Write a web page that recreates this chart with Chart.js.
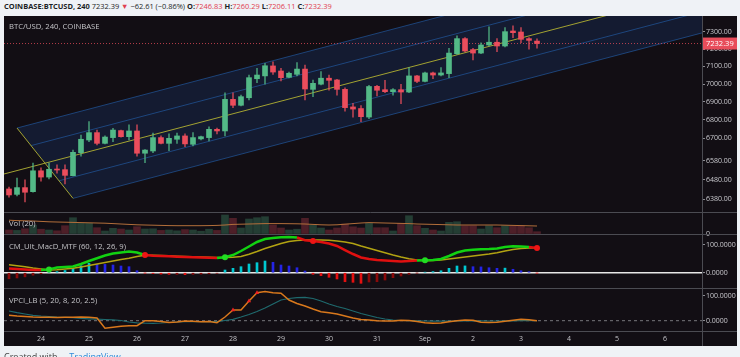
<!DOCTYPE html>
<html><head><meta charset="utf-8">
<script src="https://cdn.jsdelivr.net/npm/chart.js@4.4.1/dist/chart.umd.min.js"></script>
<style>
html,body{margin:0;padding:0;background:#eff2f6;width:740px;height:357px;overflow:hidden;font-family:'Open Sans',sans-serif}
#hdr{position:absolute;left:4px;top:1px;font-size:7.45px;line-height:11px;color:#1c1f26;white-space:nowrap}
#hdr b{font-weight:700}
#hdr .r{color:#e0404f}
#frame{position:absolute;left:4px;top:16px;width:733px;height:330px;background:#120e14}
#frame canvas{position:absolute;left:0;top:0}
.lbl{position:absolute;font-size:7.7px;color:#c4c4c8;white-space:nowrap;line-height:10px}
#foot{position:absolute;left:4px;top:350px;font-size:9px;color:#444;white-space:nowrap}
#foot span{color:#2f8bd8}
</style></head><body>
<div id="hdr"><b>COINBASE:BTCUSD, 240</b> 7232.39 <span class="r">▼</span> −62.61 (−0.86%) <b>O:</b><span class="r">7246.83</span> <b>H:</b><span class="r">7260.29</span> <b>L:</b><span class="r">7206.11</span> <b>C:</b><span class="r">7232.39</span></div>
<div id="frame">
<canvas id="c" width="733" height="330"></canvas>
<div class="lbl" style="left:5px;top:5px">BTC/USD, 240, COINBASE</div>
<div class="lbl" style="left:5px;top:202px">Vol (20)</div>
<div class="lbl" style="left:5px;top:225px">CM_Ult_MacD_MTF (60, 12, 26, 9)</div>
<div class="lbl" style="left:5px;top:279px">VPCI_LB (5, 20, 8, 20, 2.5)</div>
</div>
<div id="foot">Created with &nbsp; &nbsp; <span>TradingView</span></div>
<script>
// ---- data (4h candles, bar 0 = Aug 24 00:00) ----
const firstBar = -4;
const dayLabels = ['24','25','26','27','28','29','30','31','Sep','2','3','4','5','6'];
const priceTicks = [7300,7200,7100,7000,6900,6800,6700,6580,6480,6380];
const open = [6432,6404,6439,6418,6527,6494,6535,6533,6501,6623,6691,6731,6673,6704,6742,6709,6740,6620,6632,6704,6673,6695,6713,6668,6697,6704,6749,6740,6914,6881,6923,7030,7046,7103,7074,7038,7055,7085,6970,6999,7033,7023,6970,6872,6863,6816,6987,6968,6957,6968,6955,7046,7015,7063,7051,7059,7173,7261,7197,7177,7224,7240,7218,7306,7300,7261,7246.83];
const high = [6442,6489,6479,6568,6543,6568,6558,6558,6637,6718,6791,6745,6713,6755,6745,6773,6773,6640,6729,6713,6724,6729,6724,6731,6712,6762,6756,6951,6950,6938,7051,7089,7118,7127,7089,7068,7122,7108,7023,7070,7051,7027,6978,6892,6879,6993,6993,7021,6974,6999,7093,7050,7068,7068,7093,7205,7277,7267,7205,7237,7331,7261,7326,7336,7326,7267,7260.29];
const low = [6390,6396,6365,6416,6473,6484,6515,6458,6500,6605,6682,6664,6670,6682,6706,6691,6605,6570,6623,6670,6634,6673,6655,6659,6691,6686,6724,6713,6868,6877,6911,7008,6999,7055,7017,7034,7046,6911,6929,6995,6966,6938,6849,6815,6791,6807,6933,6951,6937,6890,6951,7008,7012,7030,7046,7036,7169,7183,7137,7173,7218,7185,7212,7267,7237,7199,7206.11];
const close = [6401,6439,6415,6527,6494,6535,6531,6503,6625,6695,6731,6673,6707,6745,6709,6740,6620,6637,6704,6673,6700,6713,6670,6704,6709,6749,6740,6914,6881,6929,7036,7051,7104,7068,7036,7061,7085,6972,7004,7033,7021,6970,6868,6860,6818,6986,6965,6957,6968,6955,7046,7015,7063,7051,7063,7177,7261,7189,7177,7224,7240,7218,7302,7296,7257,7251,7232.39];
const volume = [1000,900,1300,2200,1200,1000,800,2075,4075,2675,2675,1575,750,1425,1250,1000,1825,1250,1300,900,1000,800,1100,1000,700,1200,900,4750,3925,1500,3750,4075,4325,2250,1500,1000,1200,3925,2250,1500,1000,1500,2500,1800,1500,2675,1575,1575,750,2675,4575,2075,1425,1000,750,2925,3075,2075,2075,1250,2075,1575,2075,2075,2075,1575,575];
const volumeMA = [3450,3350,3300,3250,3150,3050,3000,2950,2900,2850,2800,2750,2700,2600,2500,2400,2300,2250,2200,2150,2100,2075,2075,2075,2075,2100,2150,2250,2400,2450,2500,2550,2600,2600,2600,2575,2550,2500,2400,2300,2250,2300,2450,2600,2750,2850,2800,2750,2700,2650,2600,2500,2450,2400,2350,2300,2250,2250,2250,2250,2250,2250,2200,2150,2100,2050,2000];
const macd = [15.2,13.4,11.6,9.7,9.7,11.6,18.8,20.6,22.4,31.4,42.2,52.0,62.1,69.3,72.9,76.5,72.9,63.9,61.0,60.3,59.2,57.8,56.7,55.6,54.9,54.2,53.1,55.6,63.9,78.3,94.6,110.8,121.7,125.3,127.8,128.9,127.1,117.5,114.4,110.8,105.4,96.4,81.9,67.5,54.9,49.5,45.8,44.0,42.2,40.4,42.2,44.0,44.8,45.8,49.5,60.3,72.9,80.1,83.0,84.5,85.6,87.4,92.8,95.7,94.6,92.8,89.5];
const macdSignal = [28.5,24.9,21.3,17.0,13.4,9.7,10.5,13.4,15.9,20.6,26.0,31.4,36.8,42.2,47.7,52.3,58.5,63.2,62.8,62.1,61.0,59.6,58.5,57.4,56.7,56.0,55.2,54.9,55.6,58.5,66.4,76.5,87.4,96.4,105.4,112.6,116.2,118.0,118.0,118.0,117.0,114.4,110.8,105.4,96.4,88.1,80.1,72.2,63.9,56.7,50.2,45.8,43.3,44.0,45.8,49.5,53.1,56.7,60.3,63.9,67.5,72.2,78.3,83.8,87.4,89.2,90.3];
const macdHist = [-22,-19,-15,-9,-4,2,4,8,15.9,25.3,34.0,30.3,30.0,27.8,24.2,21.7,7.2,-1,-3,-5,-6,-6,-7,-6,-5,-4,-2,9.7,15.9,21.7,31.4,36.1,42.2,37.5,27.8,24.2,18.0,6,-5.8,-10.8,-16.6,-22.7,-32.5,-34.7,-38.3,-33.6,-32.5,-26.4,-18,-11.9,-5.8,-1,2,4,7.2,15.9,24.2,24.5,21.7,21.0,18.0,15.9,16.5,12.3,7.2,3.6,-1];
const crossUp = [1,23,48];
const crossDown = [13,34,62];
const vpci = [21.6,18.8,16.8,14.8,13.6,13.6,12.8,13.6,13.6,14.8,13.6,10.8,-30.4,-26,-22,-20,-20,0,0,-3.2,-7.2,-5.2,-1.2,-2.4,-4,-3.2,-8,14.8,42.8,42.8,78.8,112,116.8,112,109.6,82.8,68.8,58.8,46.8,36,32,26.8,18.8,10.8,4.8,2.8,0,-1.2,-1.2,2,0.8,-3.2,-8,-10.4,-9.2,-4,0,2.8,1.6,-6.4,-7.2,-6.4,-2.4,1.6,5.6,4,0];
const vpciSignal = [38.8,32,26.8,21.6,18.8,16.8,14.8,13.6,12,9.6,7.6,6,4.8,3.6,0.8,-5.2,-8.4,-10,-10.4,-9.2,-7.2,-5.2,-4,-4,-4,-4,-4,0.8,5.6,14.8,24.8,36.8,50.8,66.8,82.8,88.8,92,93.6,88.8,78.8,66.8,56.8,48.8,38.8,28.8,20.8,12.8,6.8,2.8,0.8,0,-0.8,-1.2,-1.6,-1.6,-1.6,-1.2,-0.8,-0.8,-0.8,-1.2,-1.2,-0.8,-0.4,0,0,0];
const vpciMarks = [24,26,27];
// regression channel: centre line anchors (bar, price) and band ratios
const channelBars = [-5, 83];
const channelPrices = [6506, 7554];
const channelOuter = 1.0349, channelInner = 1.0173;
const channelStartBars = {upper:-3, upperInner:-1.25, lowerInner:2.25, lower:4};

// ---- build ----
const N = close.length;
const xs = close.map((_,k)=>k+firstBar);
const X0 = -4.625, X1 = 82.625;
const up = k => close[k] >= open[k];
const UPC = '#53b987', DNC = '#eb4d5c';
const centre = b => Math.exp(Math.log(channelPrices[0]) + (b-channelBars[0])/(channelBars[1]-channelBars[0])*(Math.log(channelPrices[1])-Math.log(channelPrices[0])));
const line2 = (b0,b1,f) => [{x:b0,y:centre(b0)*f},{x:b1,y:centre(b1)*f}];
const BE = channelBars[1];
const poly = [
  {x:channelStartBars.upper, y:centre(channelStartBars.upper)*channelOuter},
  {x:BE, y:centre(BE)*channelOuter},
  {x:BE, y:centre(BE)/channelOuter},
  {x:channelStartBars.lower, y:centre(channelStartBars.lower)/channelOuter},
  {x:channelStartBars.upper, y:centre(channelStartBars.upper)*channelOuter}
];
const lineDS = (data, yAxisID, color, width, extra) => Object.assign({type:'line', data, yAxisID, borderColor:color, borderWidth:width, pointRadius:0, fill:false, tension:0}, extra||{});
const pts = arr => arr.map((v,k)=>({x:xs[k], y:v}));
const CH = 'rgba(38,105,190,0.55)', YEL = '#a3a332';

const datasets = [
  {type:'line', data:poly, yAxisID:'yP', borderWidth:0, pointRadius:0, fill:'shape', backgroundColor:'rgba(30,80,165,0.2)', order:100},
  lineDS(line2(channelStartBars.upper,BE,channelOuter),'yP',CH,1,{order:90}),
  lineDS(line2(channelStartBars.upperInner,BE,channelInner),'yP',CH,1,{order:90}),
  lineDS(line2(channelStartBars.lowerInner,BE,1/channelInner),'yP',CH,1,{order:90}),
  lineDS(line2(channelStartBars.lower,BE,1/channelOuter),'yP',CH,1,{order:90}),
  lineDS(line2(channelBars[0],channelBars[1],1),'yP',YEL,1,{order:89}),
  lineDS([poly[0],poly[3]],'yP',YEL,1,{order:89}),
  lineDS([{x:X0,y:close[N-1]},{x:X1,y:close[N-1]}],'yP','rgba(235,77,92,0.75)',1,{borderDash:[1,2],order:80}),
  {type:'bar', data:xs.map((x,k)=>({x, y:[low[k],high[k]]})), yAxisID:'yP', barThickness:1, grouped:false,
   backgroundColor:xs.map((_,k)=>up(k)?'rgba(83,185,135,0.75)':'rgba(235,77,92,0.75)'), order:20},
  {type:'bar', data:xs.map((x,k)=>({x, y:[open[k],close[k]]})), yAxisID:'yP', barThickness:5, grouped:false, minBarLength:1,
   backgroundColor:xs.map((_,k)=>up(k)?UPC:DNC), order:10},
  {type:'bar', data:pts(volume), yAxisID:'yV', barThickness:7, grouped:false,
   backgroundColor:xs.map((_,k)=>up(k)?'rgba(83,185,135,0.28)':'rgba(235,77,92,0.28)'), order:30},
  lineDS(pts(volumeMA),'yV','#b36f3b',1,{order:25}),
  lineDS([{x:X0,y:0},{x:X1,y:0}],'yM','#e8e8e8',1.5,{order:60}),
  {type:'bar', data:pts(macdHist), yAxisID:'yM', barThickness:2, grouped:false, order:50,
   backgroundColor:macdHist.map((h,k)=>{const p=k?macdHist[k-1]:h; return h>=0?(h>p?'#00c8d2':'#2424e6'):(h<p?'#e41010':'#8a0a0a');})},
  lineDS(pts(macdSignal),'yM','#b2a312',1.5,{order:45}),
  lineDS(pts(macd),'yM','#12d212',2.5,{order:40, segment:{borderColor:c=>macd[c.p1DataIndex]>=macdSignal[c.p1DataIndex]?'#12d212':'#e01010'}}),
  {type:'line', showLine:false, yAxisID:'yM', order:35,
   data:crossUp.map(b=>({x:b,y:macd[b-firstBar]})).concat(crossDown.map(b=>({x:b,y:macd[b-firstBar]}))),
   pointRadius:3, pointBorderWidth:0,
   pointBackgroundColor:crossUp.map(()=>'#22dd22').concat(crossDown.map(()=>'#ee1515'))},
  lineDS([{x:X0,y:0},{x:X1,y:0}],'yS','#77777c',1,{borderDash:[3,3],order:70}),
  lineDS(pts(vpciSignal),'yS','#1f6a6e',1.2,{order:66}),
  lineDS(pts(vpci),'yS','#d9781c',1.5,{order:65}),
  {type:'line', showLine:false, yAxisID:'yS', order:64,
   data:vpciMarks.map(b=>({x:b,y:vpci[b-firstBar]})), pointStyle:'triangle', pointRadius:2.5, pointBorderWidth:0, pointBackgroundColor:'#ee2222'}
];
datasets.forEach(d=>{d.xAxisID='x';});

const tickFont = {family:"'Open Sans', sans-serif", size:7};
const noPad = s => { s.paddingTop = 0; s.paddingBottom = 0; s.paddingLeft = 0; s.paddingRight = 0; };
const axisCommon = (stackWeight, fmt, ticks, extra) => Object.assign({
  position:'right', stack:'panes', stackWeight, offset:false, bounds:'data',
  border:{display:false},
  grid:{display:true, drawOnChartArea:false, drawTicks:true, tickLength:3, color:'#8b8b92'},
  ticks:{font:tickFont, color:'#c9c9ce', padding:1, callback:v=>fmt(v), autoSkip:false, maxRotation:0},
  afterBuildTicks:s=>{s.ticks = ticks.map(v=>({value:v}));},
  afterFit:s=>{s.width = 35; noPad(s);}
}, extra);

const framePlugin = {
  id:'frame',
  afterDraw(chart){
    const ctx = chart.ctx, a = chart.chartArea, W = chart.width, H = chart.height;
    ctx.save();
    ctx.strokeStyle = '#4b4b52'; ctx.lineWidth = 1;
    ['yP','yV','yM','yS'].forEach(id=>{
      const y = Math.round(chart.scales[id].bottom)+0.5;
      ctx.beginPath(); ctx.moveTo(0,y); ctx.lineTo(W,y); ctx.stroke();
    });
    const xr = Math.round(a.right)+0.5;
    ctx.beginPath(); ctx.moveTo(xr,0); ctx.lineTo(xr,H); ctx.stroke();
    const yp = chart.scales.yP.getPixelForValue(close[N-1]);
    ctx.fillStyle = '#e84d5b';
    ctx.fillRect(a.right+1, yp-6, W-a.right-1, 12);
    ctx.fillStyle = '#ffffff'; ctx.font = "7.5px 'Open Sans', sans-serif";
    ctx.textBaseline = 'middle'; ctx.textAlign = 'left';
    ctx.fillText(close[N-1].toFixed(2), a.right+4, yp+0.5);
    ctx.restore();
  }
};

new Chart(document.getElementById('c'), {
  type:'line',
  data:{datasets},
  options:{
    responsive:false, animation:false, events:[],
    layout:{padding:0, autoPadding:false},
    plugins:{legend:{display:false}, tooltip:{enabled:false}},
    scales:{
      x:{type:'linear', min:X0, max:X1, offset:false, bounds:'data', border:{display:false},
         grid:{display:false, drawTicks:false},
         ticks:{font:tickFont, color:'#c3c3c8', padding:4, maxRotation:0, autoSkip:false, callback:v=>dayLabels[Math.round(v/6)]},
         afterBuildTicks:s=>{s.ticks = dayLabels.map((_,k)=>({value:k*6}));},
         afterFit:s=>{s.height = 15; noPad(s);}},
      yP:axisCommon(196, v=>v.toFixed(2), priceTicks, {type:'logarithmic', min:6313.6, max:7394.8}),
      yV:axisCommon(22, v=>String(v), [0], {type:'linear', min:0, max:5500}),
      yM:axisCommon(54, v=>v.toFixed(4), [0,100], {type:'linear', min:-55.2, max:139.7}),
      yS:axisCommon(43, v=>v.toFixed(4), [0,100], {type:'linear', min:-41.2, max:130.8})
    }
  },
  plugins:[framePlugin]
});
</script>
</body></html>
